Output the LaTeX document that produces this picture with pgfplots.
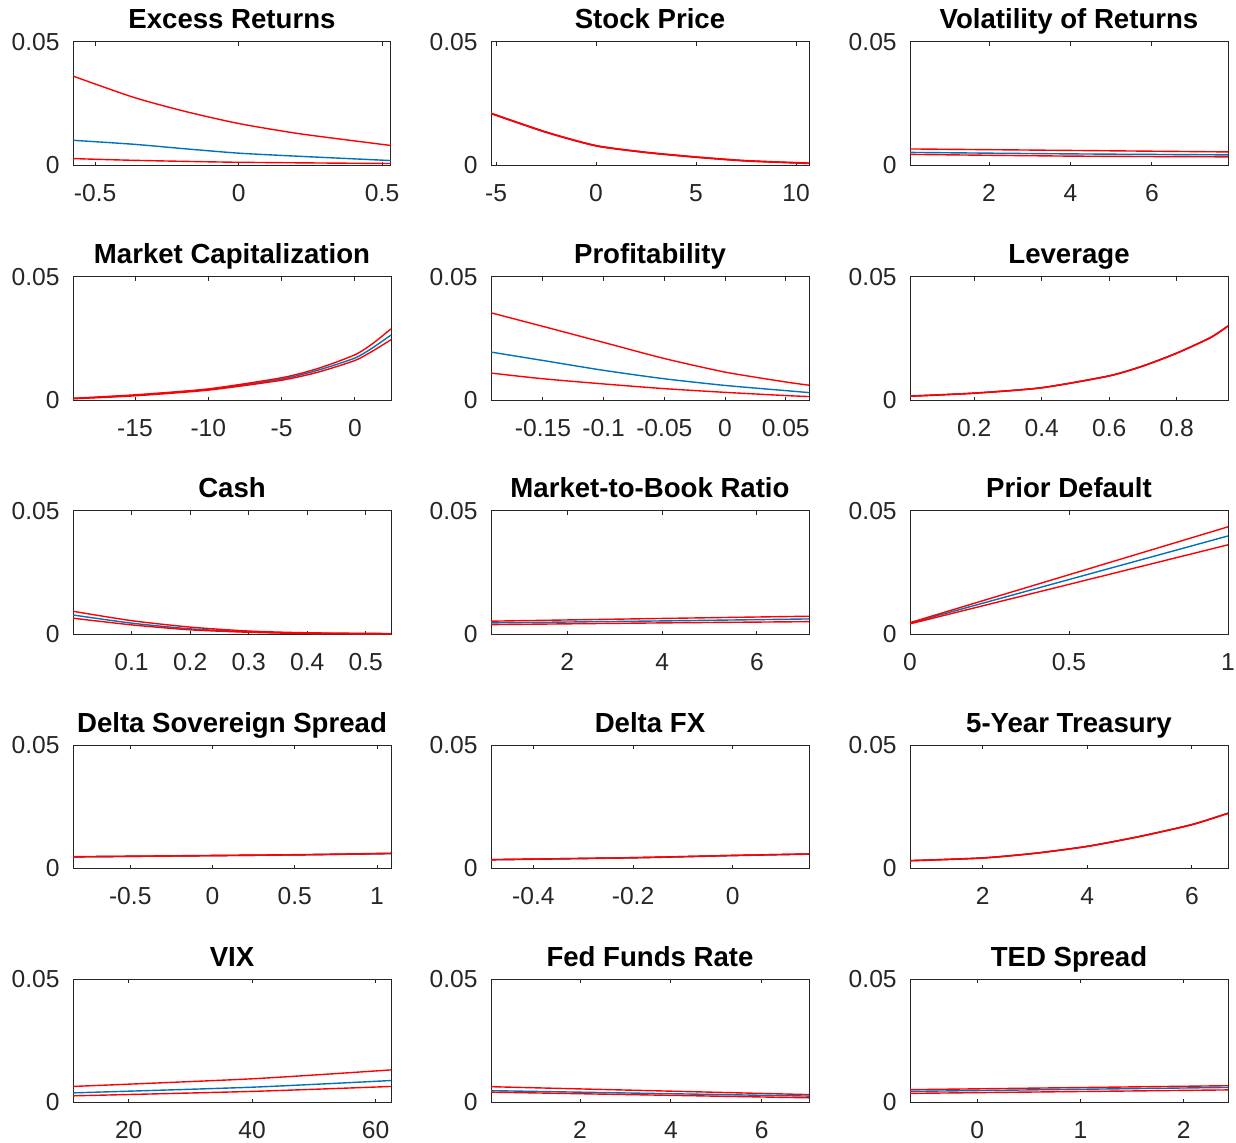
\documentclass[border=0pt]{standalone}
\usepackage{fontspec}
\setmainfont{Liberation Sans}
\usepackage{pgfplots}
\pgfplotsset{compat=1.18}
\definecolor{axcol}{rgb}{0.15,0.15,0.15}
\definecolor{mblue}{rgb}{0,0.447,0.741}
\definecolor{mred}{rgb}{1,0,0}
\newcommand\tickfont{\fontsize{12.3}{14}\selectfont}
\newcommand\titlefont{\fontsize{13.8}{16}\selectfont\bfseries}
\pgfplotsset{
  pan/.style={
    scale only axis, width=159pt, height=61.75pt, anchor=north west,
    ymin=0, ymax=0.05, ytick={0,0.05}, yticklabels={0,0.05},
    scaled y ticks=false, scaled x ticks=false,
    axis line style={color=axcol, line width=0.5pt},
    tick style={color=axcol, line width=0.5pt},
    tick align=inside, major tick length=1.8pt,
    ticklabel style={font=\tickfont, text=axcol, inner sep=0pt},
    xticklabel style={anchor=base, yshift=-18pt},
    yticklabel style={anchor=east, xshift=-6.5pt},
    title style={font=\titlefont, at={(0.5,1)}, anchor=base, yshift=0.5pt, inner sep=0pt, text=black},
    every axis plot/.append style={line width=0.7pt, mark=none, smooth, tension=0.4},
  },
  bl/.style={color=mblue},
  rd/.style={color=mred},
}
\begin{document}
\begin{tikzpicture}
\path[use as bounding box] (0pt,0pt) rectangle (618pt,-571.5pt);
% Row 1
\begin{axis}[pan, at={(36.5pt,-21pt)}, title={Excess Returns},
  xmin=-0.577, xmax=0.531, xtick={-0.5,0,0.5}, xticklabels={-0.5,0,0.5}]
\addplot[bl] coordinates {(-0.577,0.0102) (-0.366,0.0086) (-0.19,0.0068) (0,0.0050) (0.216,0.0037) (0.531,0.0020)};
\addplot[rd] coordinates {(-0.577,0.0362) (-0.366,0.0276) (-0.19,0.0220) (0,0.0170) (0.216,0.0128) (0.531,0.0081)};
\addplot[rd] coordinates {(-0.577,0.0028) (-0.366,0.0021) (0,0.0013) (0.531,0.0008)};
\end{axis}
\begin{axis}[pan, at={(245.5pt,-21pt)}, title={Stock Price},
  xmin=-5.25, xmax=10.65, xtick={-5,0,5,10}, xticklabels={-5,0,5,10}]
\addplot[bl] coordinates {(-5.25,0.0211) (-2.5,0.0135) (0,0.0080) (2.5,0.0053) (5,0.0034) (7.5,0.0019) (10.65,0.0009)};
\addplot[rd] coordinates {(-5.25,0.0212) (-2.5,0.0136) (0,0.0081) (2.5,0.0054) (5,0.0035) (7.5,0.0020) (10.65,0.0010)};
\addplot[rd] coordinates {(-5.25,0.0210) (-2.5,0.0134) (0,0.0079) (2.5,0.0052) (5,0.0033) (7.5,0.0018) (10.65,0.0008)};
\end{axis}
\begin{axis}[pan, at={(455pt,-21pt)}, title={Volatility of Returns},
  xmin=0.06, xmax=7.87, xtick={2,4,6}, xticklabels={2,4,6}]
\addplot[bl] coordinates {(0.06,0.0053) (4,0.0047) (7.87,0.0043)};
\addplot[rd] coordinates {(0.06,0.0067) (4,0.0061) (7.87,0.0055)};
\addplot[rd] coordinates {(0.06,0.0045) (4,0.0038) (7.87,0.0035)};
\end{axis}
% Row 2
\begin{axis}[pan, at={(36.5pt,-138.5pt)}, title={Market Capitalization},
  xmin=-19.23, xmax=2.46, xtick={-15,-10,-5,0}, xticklabels={-15,-10,-5,0}]
\addplot[bl] coordinates {(-19.23,0.0008) (-15,0.0021) (-10,0.0045) (-5,0.0087) (-2.5,0.0123) (0,0.0172) (1.2,0.0213) (2.46,0.0265)};
\addplot[rd] coordinates {(-19.23,0.0009) (-15,0.0023) (-10,0.0047) (-5,0.0092) (-2.5,0.0130) (0,0.0185) (1.2,0.0230) (2.46,0.0290)};
\addplot[rd] coordinates {(-19.23,0.0007) (-15,0.0019) (-10,0.0042) (-5,0.0082) (-2.5,0.0115) (0,0.0162) (1.2,0.0200) (2.46,0.0246)};
\end{axis}
\begin{axis}[pan, at={(245.5pt,-138.5pt)}, title={Profitability},
  xmin=-0.1928, xmax=0.0692, xtick={-0.15,-0.1,-0.05,0,0.05}, xticklabels={-0.15,-0.1,-0.05,0,0.05}]
\addplot[bl] coordinates {(-0.1928,0.0196) (-0.15,0.0162) (-0.1,0.0122) (-0.05,0.0088) (0,0.0061) (0.05,0.0040) (0.0692,0.0032)};
\addplot[rd] coordinates {(-0.1928,0.0355) (-0.15,0.0300) (-0.1,0.0235) (-0.05,0.0170) (0,0.0115) (0.05,0.0075) (0.0692,0.0062)};
\addplot[rd] coordinates {(-0.1928,0.0111) (-0.15,0.0088) (-0.1,0.0067) (-0.05,0.0048) (0,0.0033) (0.05,0.0020) (0.0692,0.0016)};
\end{axis}
\begin{axis}[pan, at={(455pt,-138.5pt)}, title={Leverage},
  xmin=0.01, xmax=0.952, xtick={0.2,0.4,0.6,0.8}, xticklabels={0.2,0.4,0.6,0.8}]
\addplot[bl] coordinates {(0.01,0.0018) (0.2,0.0030) (0.4,0.0052) (0.6,0.0100) (0.7,0.0140) (0.8,0.0192) (0.9,0.0255) (0.952,0.0302)};
\addplot[rd] coordinates {(0.01,0.0018) (0.2,0.0030) (0.4,0.0052) (0.6,0.0100) (0.7,0.0140) (0.8,0.0192) (0.9,0.0255) (0.952,0.0302)};
\addplot[rd] coordinates {(0.01,0.0017) (0.2,0.0029) (0.4,0.0051) (0.6,0.0099) (0.7,0.0139) (0.8,0.0191) (0.9,0.0254) (0.952,0.0301)};
\end{axis}
% Row 3
\begin{axis}[pan, at={(36.5pt,-255.5pt)}, title={Cash},
  xmin=0, xmax=0.543, xtick={0.1,0.2,0.3,0.4,0.5}, xticklabels={0.1,0.2,0.3,0.4,0.5}]
\addplot[bl] coordinates {(0,0.0079) (0.1,0.0046) (0.2,0.0023) (0.3,0.0011) (0.4,0.0005) (0.543,0.0003)};
\addplot[rd] coordinates {(0,0.0094) (0.1,0.0056) (0.2,0.0030) (0.3,0.0014) (0.4,0.0007) (0.543,0.0004)};
\addplot[rd] coordinates {(0,0.0066) (0.1,0.0039) (0.2,0.0019) (0.3,0.0009) (0.4,0.0004) (0.543,0.0002)};
\end{axis}
\begin{axis}[pan, at={(245.5pt,-255.5pt)}, title={Market-to-Book Ratio},
  xmin=0.39, xmax=7.1, xtick={2,4,6}, xticklabels={2,4,6}]
\addplot[bl] coordinates {(0.39,0.0047) (4,0.0055) (7.1,0.0063)};
\addplot[rd] coordinates {(0.39,0.0054) (4,0.0065) (7.1,0.0074)};
\addplot[rd] coordinates {(0.39,0.0040) (4,0.0047) (7.1,0.0052)};
\end{axis}
\begin{axis}[pan, at={(455pt,-255.5pt)}, title={Prior Default},
  xmin=0, xmax=1, xtick={0,0.5,1}, xticklabels={0,0.5,1}]
\addplot[bl] coordinates {(0,0.0046) (1,0.0399)};
\addplot[rd] coordinates {(0,0.0048) (1,0.0436)};
\addplot[rd] coordinates {(0,0.0043) (1,0.0363)};
\end{axis}
% Row 4
\begin{axis}[pan, at={(36.5pt,-372.5pt)}, title={Delta Sovereign Spread},
  xmin=-0.848, xmax=1.085, xtick={-0.5,0,0.5,1}, xticklabels={-0.5,0,0.5,1}]
\addplot[bl] coordinates {(-0.848,0.0047) (0.5,0.0055) (1.085,0.0060)};
\addplot[rd] coordinates {(-0.848,0.0048) (0.5,0.0056) (1.085,0.0062)};
\addplot[rd] coordinates {(-0.848,0.0047) (0.5,0.0055) (1.085,0.0061)};
\end{axis}
\begin{axis}[pan, at={(245.5pt,-372.5pt)}, title={Delta FX},
  xmin=-0.485, xmax=0.153, xtick={-0.4,-0.2,0}, xticklabels={-0.4,-0.2,0}]
\addplot[bl] coordinates {(-0.485,0.0035) (-0.2,0.0043) (0,0.0052) (0.153,0.0058)};
\addplot[rd] coordinates {(-0.485,0.0036) (-0.2,0.0044) (0,0.0053) (0.153,0.0059)};
\addplot[rd] coordinates {(-0.485,0.0036) (-0.2,0.0044) (0,0.0053) (0.153,0.0059)};
\end{axis}
\begin{axis}[pan, at={(455pt,-372.5pt)}, title={5-Year Treasury},
  xmin=0.61, xmax=6.69, xtick={2,4,6}, xticklabels={2,4,6}]
\addplot[bl] coordinates {(0.61,0.0032) (2,0.0043) (3,0.0062) (4,0.0090) (5,0.0130) (6,0.0178) (6.69,0.0224)};
\addplot[rd] coordinates {(0.61,0.0032) (2,0.0043) (3,0.0062) (4,0.0090) (5,0.0130) (6,0.0178) (6.69,0.0224)};
\addplot[rd] coordinates {(0.61,0.0031) (2,0.0042) (3,0.0061) (4,0.0089) (5,0.0129) (6,0.0177) (6.69,0.0223)};
\end{axis}
% Row 5
\begin{axis}[pan, at={(36.5pt,-489.5pt)}, title={VIX},
  xmin=10.97, xmax=62.5, xtick={20,40,60}, xticklabels={20,40,60}]
\addplot[bl] coordinates {(10.97,0.0039) (40,0.0062) (62.5,0.0089)};
\addplot[rd] coordinates {(10.97,0.0065) (40,0.0096) (62.5,0.0132)};
\addplot[rd] coordinates {(10.97,0.0027) (40,0.0045) (62.5,0.0065)};
\end{axis}
\begin{axis}[pan, at={(245.5pt,-489.5pt)}, title={Fed Funds Rate},
  xmin=0.04, xmax=7.04, xtick={2,4,6}, xticklabels={2,4,6}]
\addplot[bl] coordinates {(0.04,0.0048) (7.04,0.0026)};
\addplot[rd] coordinates {(0.04,0.0064) (7.04,0.0032)};
\addplot[rd] coordinates {(0.04,0.0042) (7.04,0.0019)};
\end{axis}
\begin{axis}[pan, at={(455pt,-489.5pt)}, title={TED Spread},
  xmin=-0.652, xmax=2.43, xtick={0,1,2}, xticklabels={0,1,2}]
\addplot[bl] coordinates {(-0.652,0.0045) (2.43,0.0061)};
\addplot[rd] coordinates {(-0.652,0.0052) (2.43,0.0068)};
\addplot[rd] coordinates {(-0.652,0.0037) (2.43,0.0051)};
\end{axis}
\end{tikzpicture}
\end{document}
